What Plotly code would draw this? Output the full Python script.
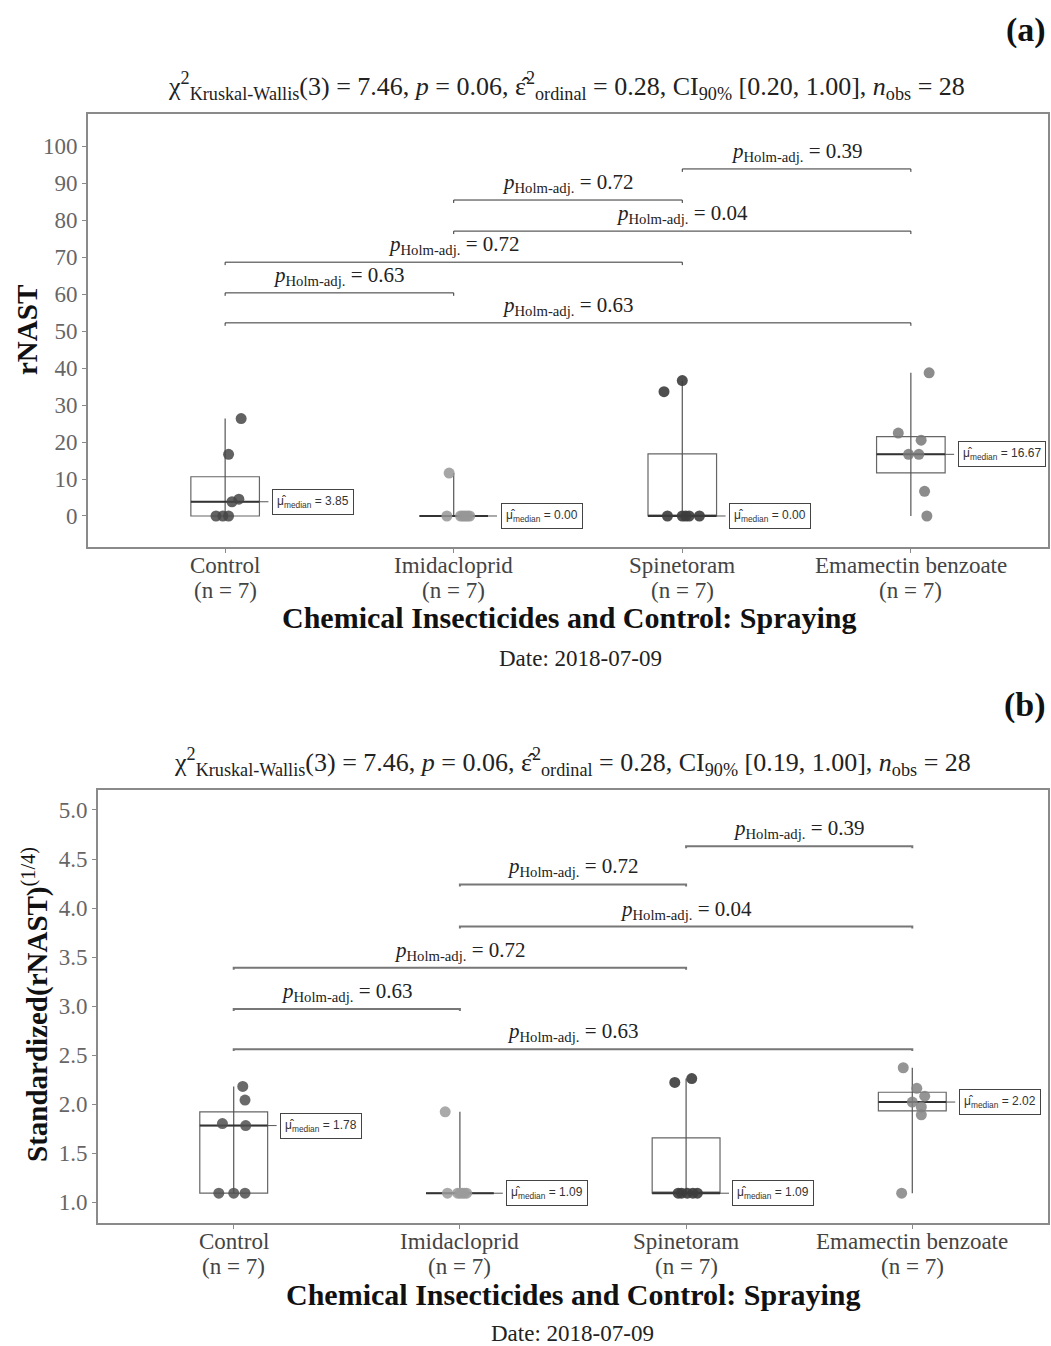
import numpy as np
import plotly.graph_objects as go

W, H = 1051, 1346

groups = ["Control", "Imidacloprid", "Spinetoram", "Emamectin benzoate"]
n_labels = ["(n = 7)", "(n = 7)", "(n = 7)", "(n = 7)"]

# Panel (a): rNAST
rnast_control = [0, 0, 0, 3.85, 4.55, 16.67, 26.32]
rnast_imidacloprid = [11.60, 0, 0, 0, 0, 0, 0]
rnast_spinetoram = [0, 0, 0, 0, 0, 33.60, 36.60]
rnast_emamectin = [0, 6.67, 16.67, 16.67, 20.50, 22.40, 38.70]

# Panel (b): Standardized(rNAST)^(1/4)
std_control = [1.09, 1.09, 1.09, 1.78, 1.80, 2.04, 2.18]
std_imidacloprid = [1.92, 1.09, 1.09, 1.09, 1.09, 1.09, 1.09]
std_spinetoram = [1.09, 1.09, 1.09, 1.09, 1.09, 2.22, 2.26]
std_emamectin = [1.09, 1.89, 1.97, 2.02, 2.08, 2.16, 2.37]

# horizontal jitter of the points (category units)
jit_a = [
    [-0.04, -0.01, 0.015, 0.03, 0.06, 0.015, 0.07],
    [-0.02, -0.03, 0.03, 0.05, 0.07, 0.04, 0.06],
    [-0.065, 0.015, 0.075, 0.0, 0.03, -0.08, 0.0],
    [0.07, 0.06, -0.01, 0.035, 0.045, -0.055, 0.08],
]
jit_b = [
    [-0.066, 0.0, 0.05, 0.053, -0.05, 0.05, 0.04],
    [-0.065, -0.055, -0.01, 0.01, 0.03, 0.0, 0.02],
    [-0.035, -0.02, 0.03, 0.05, 0.005, -0.05, 0.025],
    [-0.047, 0.04, 0.04, 0.0, 0.055, 0.02, -0.04],
]

medians_a = ["3.85", "0.00", "0.00", "16.67"]
medians_b = ["1.78", "1.09", "1.09", "2.02"]

# pairwise comparisons: (group i, group j, p-value, bar level a, bar level b)
comp_i = [3, 2, 2, 1, 1, 1]
comp_j = [4, 3, 4, 3, 2, 4]
comp_p = ["0.39", "0.72", "0.04", "0.72", "0.63", "0.63"]
comp_level_a = [93.8, 85.4, 77.0, 68.6, 60.3, 52.2]
comp_level_b = [4.63, 4.24, 3.81, 3.39, 2.97, 2.56]

subtitle_a = ("χ<sup>2</sup><sub>Kruskal-Wallis</sub>(3) = 7.46, <i>p</i> = 0.06, "
              "ε̂<sup>2</sup><sub>ordinal</sub> = 0.28, CI<sub>90%</sub> [0.20, 1.00], "
              "<i>n</i><sub>obs</sub> = 28")
subtitle_b = ("χ<sup>2</sup><sub>Kruskal-Wallis</sub>(3) = 7.46, <i>p</i> = 0.06, "
              "ε̂<sup>2</sup><sub>ordinal</sub> = 0.28, CI<sub>90%</sub> [0.19, 1.00], "
              "<i>n</i><sub>obs</sub> = 28")

SERIF = "Liberation Serif"
pt_colors_a = ["rgba(70,70,70,0.85)", "rgba(150,150,150,0.85)", "rgba(60,60,60,0.9)", "rgba(120,120,120,0.85)"]
pt_colors_b = ["rgba(80,80,80,0.85)", "rgba(155,155,155,0.85)", "rgba(60,60,60,0.9)", "rgba(130,130,130,0.85)"]


def xp(px):
    return px / W


def yp(py):
    return 1 - py / H


fig = go.Figure()
annotations = []


def add_panel(data, jit, medians, levels, xref, yref, colors, bar_color, bar_w, tip,
              tick_y1, tick_y2):
    for k, vals in enumerate(data):
        xc = k + 1
        v = np.array(vals, dtype=float)
        q1, med, q3 = np.percentile(v, [25, 50, 75])
        lo, hi = v.min(), v.max()
        fig.add_trace(go.Scatter(x=[xc, xc], y=[lo, hi], mode="lines",
                                 line=dict(color="#555", width=1.2),
                                 xaxis=xref, yaxis=yref, showlegend=False, hoverinfo="skip"))
        fig.add_trace(go.Box(x=[xc], q1=[q1], median=[med], q3=[q3],
                             lowerfence=[q1], upperfence=[q3], width=0.3,
                             boxpoints=False, whiskerwidth=0,
                             fillcolor="rgba(0,0,0,0)", line=dict(color="#666", width=1.2),
                             xaxis=xref, yaxis=yref, showlegend=False, hoverinfo="skip"))
        fig.add_trace(go.Scatter(x=[xc - 0.15, xc + 0.15], y=[med, med], mode="lines",
                                 line=dict(color="#333", width=2),
                                 xaxis=xref, yaxis=yref, showlegend=False, hoverinfo="skip"))
        fig.add_trace(go.Scatter(x=[xc + j for j in jit[k]], y=vals, mode="markers",
                                 marker=dict(size=11, color=colors[k]),
                                 xaxis=xref, yaxis=yref, showlegend=False, hoverinfo="skip"))
        fig.add_trace(go.Scatter(x=[xc + 0.15, xc + 0.205], y=[med, med], mode="lines",
                                 line=dict(color="#555", width=1, dash="dash"),
                                 xaxis=xref, yaxis=yref, showlegend=False, hoverinfo="skip"))
        annotations.append(dict(
            x=xc + 0.205, y=med, xref=xref, yref=yref, xanchor="left", yanchor="middle",
            text="μ̂<sub>median</sub> = " + medians[k], showarrow=False,
            font=dict(family="Liberation Sans", size=12, color="#333"),
            bordercolor="#444", borderwidth=1, borderpad=4, bgcolor="white"))
        annotations.append(dict(x=xc, y=yp(tick_y1), xref=xref, yref="paper", xanchor="center",
                                yanchor="middle", text=groups[k], showarrow=False,
                                font=dict(family=SERIF, size=23, color="#444")))
        annotations.append(dict(x=xc, y=yp(tick_y2), xref=xref, yref="paper", xanchor="center",
                                yanchor="middle", text=n_labels[k], showarrow=False,
                                font=dict(family=SERIF, size=23, color="#444")))
    for i, j, p, lev in zip(comp_i, comp_j, comp_p, levels):
        fig.add_trace(go.Scatter(x=[i, i, j, j], y=[lev - tip, lev, lev, lev - tip], mode="lines",
                                 line=dict(color=bar_color, width=bar_w),
                                 xaxis=xref, yaxis=yref, showlegend=False, hoverinfo="skip"))
        annotations.append(dict(
            x=(i + j) / 2, y=lev, xref=xref, yref=yref, xanchor="center", yanchor="bottom",
            yshift=2, showarrow=False,
            text="<i>p</i><sub>Holm-adj.</sub> = " + p,
            font=dict(family=SERIF, size=21, color="#222")))


add_panel([rnast_control, rnast_imidacloprid, rnast_spinetoram, rnast_emamectin],
          jit_a, medians_a, comp_level_a, "x", "y", pt_colors_a, "#333", 1, 0.8, 565, 590)
add_panel([std_control, std_imidacloprid, std_spinetoram, std_emamectin],
          jit_b, medians_b, comp_level_b, "x2", "y2", pt_colors_b, "#777", 2, 0.02, 1241, 1266)

axis_common = dict(showline=True, mirror=True, linecolor="#8a8a8a", linewidth=2,
                   ticks="outside", ticklen=4, tickcolor="#8a8a8a", showgrid=False,
                   zeroline=False)

fig.update_layout(
    width=W, height=H, margin=dict(l=0, r=0, t=0, b=0),
    plot_bgcolor="white", paper_bgcolor="white",
    xaxis=dict(domain=[xp(88), xp(1048)], range=[0.4, 4.6], anchor="y",
               tickvals=[1, 2, 3, 4], showticklabels=False, **axis_common),
    yaxis=dict(domain=[yp(547), yp(114)], range=[-8.38, 108.65], anchor="x",
               tickvals=list(range(0, 101, 10)),
               tickfont=dict(family=SERIF, size=23, color="#666"), **axis_common),
    xaxis2=dict(domain=[xp(98), xp(1048)], range=[0.4, 4.6], anchor="y2",
                tickvals=[1, 2, 3, 4], showticklabels=False, **axis_common),
    yaxis2=dict(domain=[yp(1223), yp(790)], range=[0.786, 5.204], anchor="x2",
                tickvals=[1.0, 1.5, 2.0, 2.5, 3.0, 3.5, 4.0, 4.5, 5.0],
                ticktext=["1.0", "1.5", "2.0", "2.5", "3.0", "3.5", "4.0", "4.5", "5.0"],
                tickfont=dict(family=SERIF, size=23, color="#666"), **axis_common),
)

text_items = [
    ("<b>(a)</b>", 1048, 30, "right", 34, "#111"),
    (subtitle_a, 566, 86, "center", 26, "#222"),
    ("<b>Chemical Insecticides and Control: Spraying</b>", 569, 618, "center", 30, "#111"),
    ("Date: 2018-07-09", 580, 658, "center", 23, "#222"),
    ("<b>(b)</b>", 1048, 705, "right", 34, "#111"),
    (subtitle_b, 572, 762, "center", 26, "#222"),
    ("<b>Chemical Insecticides and Control: Spraying</b>", 573, 1294, "center", 30, "#111"),
    ("Date: 2018-07-09", 572, 1333, "center", 23, "#222"),
]
for txt, x, y, xanc, size, col in text_items:
    annotations.append(dict(x=xp(x), y=yp(y), xref="paper", yref="paper", xanchor=xanc,
                            yanchor="middle", text=txt, showarrow=False,
                            font=dict(family=SERIF, size=size, color=col)))

annotations.append(dict(x=xp(27), y=yp(330), xref="paper", yref="paper", textangle=-90,
                        xanchor="center", yanchor="middle", showarrow=False,
                        text="<b>rNAST</b>", font=dict(family=SERIF, size=29, color="#111")))
annotations.append(dict(x=xp(35), y=yp(1005), xref="paper", yref="paper", textangle=-90,
                        xanchor="center", yanchor="middle", showarrow=False,
                        text="<b>Standardized(rNAST)</b><sup>(1/4)</sup>",
                        font=dict(family=SERIF, size=29, color="#111")))

fig.update_layout(annotations=annotations)
fig.write_html("out.html")
